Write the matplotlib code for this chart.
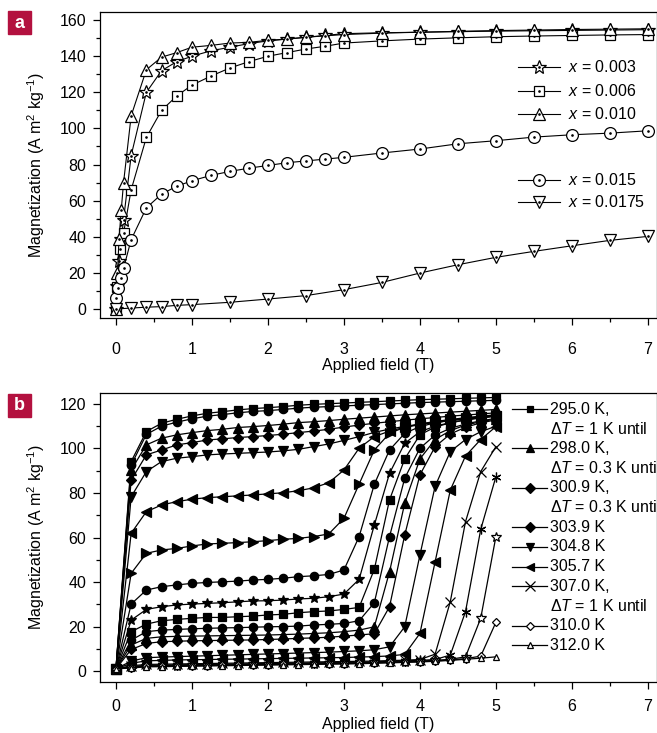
import matplotlib
matplotlib.use('Agg')
import matplotlib.pyplot as plt
from matplotlib.ticker import MultipleLocator

plt.rcParams['font.family'] = ['Liberation Sans', 'DejaVu Sans']
plt.rcParams['mathtext.fontset'] = 'custom'
plt.rcParams['mathtext.rm'] = 'Liberation Sans'
plt.rcParams['mathtext.it'] = 'Liberation Sans:italic'
plt.rcParams['font.size'] = 11.5

# ---- panel a: magnetization isotherms for several x ----
field_003 = [0, 0.02, 0.04, 0.07, 0.1, 0.2, 0.4, 0.6, 0.8, 1.0, 1.25, 1.5, 1.75, 2.0,
             2.25, 2.5, 2.75, 3.0, 3.5, 4.0, 4.5, 5.0, 5.5, 6.0, 6.5, 7.0]
mag_003 = [0, 13, 26.5, 38.5, 49.5, 85, 120, 132, 137, 140, 143, 145, 147, 148.5,
           149.5, 150.5, 151.5, 152.5, 153, 153.3, 153.6, 153.9, 154.1, 154.3, 154.5, 154.7]

field_006 = [0, 0.02, 0.05, 0.1, 0.2, 0.4, 0.6, 0.8, 1.0, 1.25, 1.5, 1.75, 2.0,
             2.25, 2.5, 2.75, 3.0, 3.5, 4.0, 4.5, 5.0, 5.5, 6.0, 6.5, 7.0]
mag_006 = [0, 12, 33, 42, 66, 95, 110, 118, 124, 129, 133.5, 137, 140,
           142, 144, 145.5, 147.3, 148.5, 149.5, 150.2, 150.8, 151.2, 151.5, 151.8, 152]

field_010 = [0, 0.02, 0.04, 0.07, 0.1, 0.2, 0.4, 0.6, 0.8, 1.0, 1.25, 1.5, 1.75, 2.0,
             2.25, 2.5, 2.75, 3.0, 3.5, 4.0, 4.5, 5.0, 5.5, 6.0, 6.5, 7.0]
mag_010 = [0, 20, 38.7, 55, 70, 107, 132.5, 139.5, 142, 145, 146, 147.3, 147.7, 148.8,
           149.5, 150.5, 151.3, 152, 152.8, 153.3, 153.8, 154.2, 154.5, 154.8, 155, 155.2]

field_015 = [0, 0.03, 0.06, 0.1, 0.2, 0.4, 0.6, 0.8, 1.0, 1.25, 1.5, 1.75, 2.0,
             2.25, 2.5, 2.75, 3.0, 3.5, 4.0, 4.5, 5.0, 5.5, 6.0, 6.5, 7.0]
mag_015 = [6, 11.6, 17, 22.5, 38.4, 56, 63.6, 68, 71, 74, 76.2, 78, 79.5,
           81, 82, 83, 84, 86.4, 88.6, 91.5, 93.2, 95.2, 96.5, 97.4, 98.7]

field_0175 = [0, 0.2, 0.4, 0.6, 0.8, 1.0, 1.5, 2.0, 2.5, 3.0, 3.5, 4.0, 4.5, 5.0,
              5.5, 6.0, 6.5, 7.0]
mag_0175 = [0, 0.5, 1, 1.3, 2, 2.4, 3.7, 5.5, 7.4, 10.7, 14.7, 19.9, 24.5, 28.6,
            31.9, 35, 38, 40.2]

labels_a = ['$x$ = 0.003', '$x$ = 0.006', '$x$ = 0.010', '$x$ = 0.015', '$x$ = 0.0175']

# ---- panel b: isotherms around the transition ----
field_b = [0.0, 0.2, 0.4, 0.6, 0.8, 1.0, 1.2, 1.4, 1.6, 1.8, 2.0, 2.2, 2.4,
           2.6, 2.8, 3.0, 3.2, 3.4, 3.6, 3.8, 4.0, 4.2, 4.4, 4.6, 4.8, 5.0]

m_295 = [1.0, 94.1, 107.6, 111.3, 113.1, 114.6, 115.8, 116.5, 117.3, 117.9, 118.3, 118.8, 119.4,
         119.8, 120.1, 120.4, 120.7, 121.0, 121.3, 121.6, 121.9, 122.1, 122.3, 122.5, 122.7, 122.9]
m_296 = [1.0, 92.5, 106.3, 110.0, 111.8, 113.3, 114.5, 115.2, 116.0, 116.6, 117.0, 117.5, 118.1,
         118.5, 118.8, 119.1, 119.4, 119.7, 120.0, 120.3, 120.6, 120.8, 121.0, 121.2, 121.4, 121.6]
m_298 = [1.0, 90.3, 101.6, 104.6, 106.1, 107.1, 108.0, 108.6, 109.4, 109.8, 110.3, 110.9, 111.6,
         112.0, 112.5, 113.1, 113.6, 114.1, 114.6, 115.1, 115.5, 115.9, 116.3, 116.7, 117.1, 117.5]
m_3009 = [1.0, 85.8, 97.1, 99.3, 101.6, 102.6, 103.8, 104.3, 104.9, 105.3, 105.8, 106.4, 107.1,
          107.8, 108.6, 109.6, 110.5, 111.3, 112.0, 112.7, 113.3, 113.9, 114.5, 115.0, 115.5, 116.0]
m_3012 = [1.0, 78.3, 89.6, 94.1, 95.6, 96.3, 97.1, 97.5, 97.8, 98.1, 98.4, 98.9, 99.6,
          100.8, 102.0, 103.6, 105.3, 107.2, 108.7, 109.9, 110.9, 111.8, 112.6, 113.3, 114.0, 114.6]
m_3015 = [1.0, 61.9, 71.6, 74.6, 76.1, 77.2, 77.9, 78.3, 78.7, 79.1, 79.6, 80.1, 81.0,
          82.3, 84.6, 90.3, 100.1, 105.3, 107.8, 109.5, 110.7, 111.7, 112.5, 113.3, 114.0, 114.6]
m_3018 = [1.0, 43.9, 52.9, 54.4, 55.1, 56.2, 57.1, 57.4, 57.7, 58.1, 58.6, 59.2, 59.6,
          60.4, 61.6, 68.6, 84.0, 99.3, 106.8, 109.5, 111.0, 112.1, 113.0, 113.8, 114.5, 115.1]
m_3021 = [1.0, 30.1, 36.4, 37.9, 38.7, 39.4, 39.8, 40.1, 40.4, 40.9, 41.2, 41.7, 42.4,
          42.8, 43.4, 45.4, 60.4, 83.9, 99.3, 106.8, 109.8, 111.5, 112.6, 113.5, 114.3, 115.0]
m_3024 = [1.0, 22.9, 27.7, 28.9, 29.7, 30.1, 30.4, 30.7, 31.1, 31.5, 31.6, 31.9, 32.4,
          32.7, 33.4, 34.6, 41.2, 65.6, 88.8, 102.3, 107.5, 110.0, 111.6, 112.8, 113.7, 114.5]
m_3027 = [1.0, 17.7, 21.1, 22.6, 23.2, 23.7, 24.1, 24.1, 24.4, 24.7, 25.2, 25.5, 26.2,
          26.7, 27.0, 27.7, 28.6, 45.7, 76.9, 95.3, 106.1, 109.6, 111.5, 112.8, 113.8, 114.6]
m_3030 = [1.0, 13.9, 17.7, 18.4, 18.7, 19.0, 19.2, 19.4, 19.5, 19.7, 19.9, 20.0, 20.2,
          20.7, 21.0, 21.4, 22.6, 30.7, 60.4, 86.6, 100.1, 106.0, 109.0, 111.0, 112.4, 113.5]
m_3033 = [1.0, 11.7, 14.7, 15.4, 15.6, 15.7, 15.8, 15.9, 16.0, 16.1, 16.2, 16.4, 16.6,
          16.9, 17.2, 17.7, 18.4, 19.9, 44.6, 75.4, 95.3, 104.0, 108.0, 110.5, 112.0, 113.2]
m_3039 = [1.0, 9.7, 12.4, 13.2, 13.4, 13.6, 13.7, 13.8, 13.9, 14.0, 14.2, 14.4, 14.7,
          14.9, 15.2, 15.7, 16.2, 16.8, 28.9, 61.1, 88.1, 100.8, 106.5, 109.5, 111.5, 112.8]
m_3048 = [1.0, 4.5, 6.0, 6.3, 6.5, 6.7, 6.9, 7.1, 7.3, 7.5, 7.7, 7.9, 8.1,
          8.3, 8.5, 8.8, 9.1, 9.6, 10.9, 19.9, 52.1, 83.0, 98.6, 104.0, 107.5, 110.0]
m_3057 = [1.0, 3.5, 4.6, 4.8, 5.0, 5.1, 5.2, 5.3, 5.4, 5.5, 5.6, 5.7, 5.8,
          5.9, 6.0, 6.1, 6.3, 6.5, 6.8, 7.5, 16.9, 49.1, 81.3, 96.6, 104.0, 109.8]
m_3070 = [1.0, 2.4, 3.0, 3.1, 3.2, 3.3, 3.4, 3.5, 3.6, 3.7, 3.8, 3.9, 4.0,
          4.1, 4.2, 4.3, 4.4, 4.5, 4.7, 4.9, 5.2, 7.6, 31.2, 67.1, 89.6, 100.8]
m_3080 = [1.0, 2.0, 2.6, 2.7, 2.8, 2.9, 3.0, 3.1, 3.2, 3.3, 3.4, 3.5, 3.6,
          3.7, 3.8, 3.9, 4.0, 4.2, 4.4, 4.6, 4.8, 5.2, 7.2, 26.7, 63.6, 87.3]
m_3090 = [1.0, 1.8, 2.3, 2.4, 2.5, 2.6, 2.7, 2.8, 2.9, 3.0, 3.1, 3.2, 3.3,
          3.4, 3.5, 3.6, 3.7, 3.9, 4.1, 4.3, 4.5, 4.8, 5.3, 6.4, 23.7, 60.4]
m_3100 = [1.0, 1.6, 2.1, 2.2, 2.3, 2.4, 2.5, 2.6, 2.7, 2.8, 2.9, 3.0, 3.1,
          3.2, 3.3, 3.4, 3.5, 3.7, 3.9, 4.1, 4.3, 4.6, 5.0, 5.6, 6.7, 21.9]
m_3120 = [1.0, 1.4, 1.9, 2.0, 2.1, 2.2, 2.3, 2.4, 2.5, 2.6, 2.7, 2.8, 2.9,
          3.0, 3.1, 3.2, 3.3, 3.5, 3.7, 3.9, 4.1, 4.4, 4.8, 5.3, 5.8, 6.4]

legend_b = [('295.0 K,', r'Δ$T$ = 1 K until'), ('298.0 K,', r'Δ$T$ = 0.3 K until'),
            ('300.9 K,', r'Δ$T$ = 0.3 K until'), ('303.9 K',), ('304.8 K',), ('305.7 K',),
            ('307.0 K,', r'Δ$T$ = 1 K until'), ('310.0 K',), ('312.0 K',)]

fig = plt.figure(figsize=(6.57, 7.33), dpi=100)
W, H = 657.0, 733.0
ax_a = fig.add_axes([100 / W, 1 - 318 / H, 557 / W, 306 / H])
ax_b = fig.add_axes([100 / W, 1 - 682 / H, 557 / W, 289 / H])


def open_series(ax, x, y, marker, ms):
    ax.plot(x, y, color='black', lw=0.8, marker=marker, ms=ms,
            mfc='white', mec='black', mew=0.9)
    ax.plot(x, y, ls='none', marker='.', ms=1.8, color='black')


style_a = [('*', 10), ('s', 7.5), ('^', 9), ('o', 8.5), ('v', 9)]
series_a = [(field_003, mag_003), (field_006, mag_006), (field_010, mag_010),
            (field_015, mag_015), (field_0175, mag_0175)]
for (x, y), (mk, ms) in zip(series_a, style_a):
    open_series(ax_a, x, y, mk, ms)

# legend of panel a, drawn by hand in axes fraction
leg_rows_a = [67, 91, 114, 180, 202]
for (mk, ms), lab, py in zip(style_a, labels_a, leg_rows_a):
    yy = (318 - py) / 306
    ax_a.plot([(518 - 100) / 557, (560 - 100) / 557], [yy, yy], color='black', lw=0.8,
              transform=ax_a.transAxes, clip_on=False)
    ax_a.plot([(539 - 100) / 557], [yy], marker=mk, ms=ms, mfc='white', mec='black',
              mew=0.9, transform=ax_a.transAxes, clip_on=False)
    ax_a.plot([(539 - 100) / 557], [yy], marker='.', ms=1.8, color='black',
              transform=ax_a.transAxes, clip_on=False)
    ax_a.text((568 - 100) / 557, yy, lab, transform=ax_a.transAxes, va='center',
              ha='left', fontsize=11.5)

ax_a.set_xlim(-0.21, 7.12)
ax_a.set_ylim(-5, 164.5)

# panel b
series_b = [
    (m_295, 's', 5.5, 'black'), (m_296, 'o', 6, 'black'), (m_298, '^', 6.5, 'black'),
    (m_3009, 'D', 5.5, 'black'), (m_3012, 'v', 6.5, 'black'), (m_3015, '<', 6.5, 'black'),
    (m_3018, '>', 6.5, 'black'), (m_3021, 'o', 6, 'black'), (m_3024, '*', 7.5, 'black'),
    (m_3027, 's', 5.5, 'black'), (m_3030, 'o', 6, 'black'), (m_3033, '^', 6.5, 'black'),
    (m_3039, 'D', 5.5, 'black'), (m_3048, 'v', 6.5, 'black'), (m_3057, '<', 6.5, 'black'),
    (m_3070, 'x', 6.5, 'white'), (m_3080, (6, 2, 0), 7, 'white'),
    (m_3090, '*', 7, 'white'), (m_3100, 'D', 4.5, 'white'), (m_3120, '^', 5, 'white'),
]
for y, mk, ms, fc in series_b:
    ax_b.plot(field_b, y, color='black', lw=0.9, marker=mk, ms=ms, mfc=fc,
              mec='black', mew=0.9)

leg_markers_b = [('s', 5, 'black'), ('^', 6, 'black'), ('D', 5, 'black'), ('D', 5, 'black'),
                 ('v', 6, 'black'), ('<', 6, 'black'), ('x', 6.5, 'white'),
                 ('D', 4.5, 'white'), ('^', 5, 'white')]
line_idx = 0
for (mk, ms, fc), lines in zip(leg_markers_b, legend_b):
    py = 409 + 19.7 * line_idx
    yy = (682 - py) / 289
    ax_b.plot([(512 - 100) / 557, (547 - 100) / 557], [yy, yy], color='black', lw=0.9,
              transform=ax_b.transAxes, clip_on=False)
    ax_b.plot([(530 - 100) / 557], [yy], marker=mk, ms=ms, mfc=fc, mec='black', mew=0.9,
              transform=ax_b.transAxes, clip_on=False)
    for k, txt in enumerate(lines):
        yk = (682 - (py + 19.7 * k)) / 289
        ax_b.text((550 - 100) / 557, yk, txt, transform=ax_b.transAxes, va='center',
                  ha='left', fontsize=11.5)
    line_idx += len(lines)

ax_b.set_xlim(-0.21, 7.12)
ax_b.set_ylim(-4.9, 124.9)

for ax, pad_x in ((ax_a, 12), (ax_b, 7)):
    ax.xaxis.set_major_locator(MultipleLocator(1))
    ax.xaxis.set_minor_locator(MultipleLocator(0.5))
    ax.yaxis.set_major_locator(MultipleLocator(20))
    ax.yaxis.set_minor_locator(MultipleLocator(10))
    ax.tick_params(which='major', direction='out', length=5, width=0.9, labelsize=11.5)
    ax.tick_params(which='minor', direction='out', length=3, width=0.9)
    ax.tick_params(axis='x', which='major', pad=pad_x)
    ax.tick_params(axis='y', which='major', pad=5)
    for sp in ax.spines.values():
        sp.set_linewidth(0.9)
    ax.set_xlabel('Applied field (T)', fontsize=11.5)
    ax.set_ylabel('Magnetization (A m$^{2}$ kg$^{-1}$)', fontsize=11.5)
    ax.yaxis.set_label_coords(-0.095, 0.5)

ax_a.xaxis.set_label_coords(0.5, -0.13)
ax_b.xaxis.set_label_coords(0.5, -0.12)

# panel letters
for letter, top in (('a', 11), ('b', 394)):
    fig.patches.append(plt.Rectangle((8 / W, 1 - (top + 23) / H), 23 / W, 23 / H,
                                     transform=fig.transFigure, color='#b3113f'))
    fig.text(19.5 / W, 1 - (top + 12) / H, letter, color='white', fontweight='bold',
             fontsize=13, ha='center', va='center')

fig.savefig('out.png', dpi=100)
